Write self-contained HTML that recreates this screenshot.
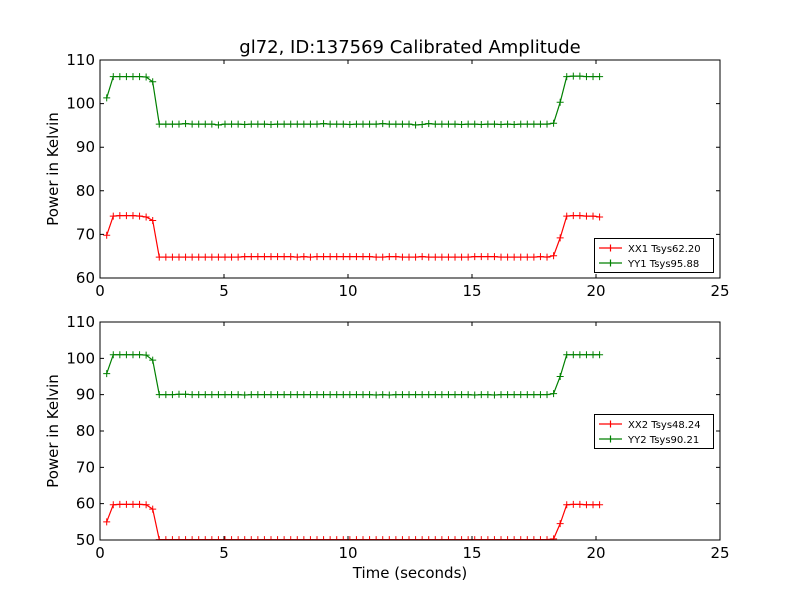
<!DOCTYPE html>
<html><head><meta charset="utf-8"><style>
body{margin:0;background:#fff;}
svg text{font-family:"DejaVu Sans","Liberation Sans",sans-serif;}
</style></head><body>
<svg id="chart" width="800" height="600" viewBox="0 0 800 600" xmlns="http://www.w3.org/2000/svg">
<rect width="800" height="600" fill="#fff"/>
<text x="410" y="53" font-size="18" text-anchor="middle">gl72, ID:137569 Calibrated Amplitude</text>
<text x="410" y="578" font-size="15" text-anchor="middle">Time (seconds)</text>
</svg>
<script>
const xTicks=[0,5,10,15,20,25];
const yTicksTop=[60,70,80,90,100,110];
const yTicksBot=[50,60,70,80,90,100,110];
const tStart=0.27, tStep=0.265;
const xx1=[69.8,74.2,74.3,74.3,74.3,74.2,74.0,73.2,
64.8,64.8,64.8,64.8,64.8,64.8,64.8,64.8,64.8,64.8,64.8,64.8,64.8,64.9,64.9,64.9,64.9,64.9,64.9,64.9,64.9,64.8,64.9,64.8,64.9,64.9,64.9,64.9,64.9,64.9,64.9,64.9,64.9,64.8,64.8,64.9,64.9,64.8,64.8,64.8,64.9,64.8,64.8,64.8,64.8,64.8,64.8,64.8,64.9,64.9,64.9,64.9,64.8,64.8,64.8,64.8,64.8,64.8,64.9,64.8,
65.1,69.2,74.2,74.3,74.3,74.2,74.2,74.0];
const yy1=[101.3,106.2,106.2,106.2,106.2,106.2,106.1,105.0,
95.3,95.3,95.3,95.3,95.4,95.3,95.3,95.3,95.3,95.1,95.3,95.3,95.3,95.2,95.3,95.3,95.3,95.2,95.3,95.3,95.3,95.3,95.3,95.3,95.3,95.4,95.3,95.3,95.3,95.2,95.3,95.3,95.3,95.3,95.4,95.3,95.3,95.3,95.3,95.1,95.2,95.4,95.3,95.3,95.3,95.3,95.2,95.3,95.3,95.2,95.3,95.3,95.2,95.3,95.2,95.3,95.3,95.3,95.3,95.3,
95.5,100.3,106.2,106.3,106.3,106.2,106.2,106.2];
const xx2=[55.0,59.7,59.8,59.8,59.8,59.8,59.7,58.5,
50.1,50.1,50.1,50.1,50.1,50.1,50.1,50.1,50.1,50.1,50.1,50.1,50.1,50.1,50.1,50.1,50.1,50.1,50.1,50.1,50.1,50.1,50.1,50.1,50.1,50.1,50.1,50.1,50.1,50.1,50.1,50.1,50.1,50.1,50.1,50.1,50.1,50.1,50.1,50.1,50.1,50.1,50.1,50.1,50.1,50.1,50.1,50.1,50.1,50.1,50.1,50.1,50.1,50.1,50.1,50.1,50.1,50.1,50.1,50.1,
50.3,54.5,59.7,59.8,59.8,59.7,59.7,59.7];
const yy2=[95.8,101.0,101.0,101.0,101.0,101.0,100.9,99.5,
90.0,90.0,90.0,90.1,90.1,90.0,90.0,90.0,90.0,90.0,90.0,90.0,90.0,89.9,90.0,90.0,90.0,90.0,90.0,90.0,90.0,90.0,90.0,90.0,90.0,90.0,90.0,90.0,90.0,90.0,90.0,90.0,90.0,89.9,90.0,89.9,90.0,90.0,90.0,90.0,90.0,90.0,90.0,90.0,90.0,90.0,90.0,90.0,89.9,90.0,90.0,89.9,90.0,90.0,90.0,90.0,90.0,90.0,90.0,90.0,
90.3,95.0,101.0,101.0,101.0,101.0,101.0,101.0];
const legendTop=["XX1 Tsys62.20","YY1 Tsys95.88"];
const legendBot=["XX2 Tsys48.24","YY2 Tsys90.21"];

const NS="http://www.w3.org/2000/svg";
const svg=document.getElementById('chart');
function mk(tag,attrs,parent){const e=document.createElementNS(NS,tag);for(const k in attrs)e.setAttribute(k,attrs[k]);(parent||svg).appendChild(e);return e;}
const X0=100,X1=720;
const xs=t=>X0+(t-0)/(25-0)*(X1-X0);

function panel(idx,top,bot,ymin,ymax,yTicks,series,labels,legY){
  const ys=v=>bot-(v-ymin)/(ymax-ymin)*(bot-top);
  const g=mk('g',{});
  
  
  const clipId='clip'+idx;
  const cp=mk('clipPath',{id:clipId},g);
  mk('rect',{x:X0,y:top,width:X1-X0,height:bot-top},cp);
  const colors=['#ff0000','#008000'];
  series.forEach((arr,si)=>{
    const sg=mk('g',{'clip-path':'url(#'+clipId+')'},g);
    
    
    const pts=arr.map((v,i)=>[xs(tStart+i*tStep),ys(v)]);
    const pl=mk('polyline',{points:pts.map(p=>p.join(',')).join(' '),fill:'none',stroke:colors[si],'stroke-width':1.2},sg);
    
    
    pts.forEach(p=>{
      const m=mk('path',{d:`M${p[0]-3.5},${p[1]}h7M${p[0]},${p[1]-3.5}v7`,stroke:colors[si],'stroke-width':1},sg);
      
      
    });
  });
  xTicks.forEach(t=>{
    const x=xs(t);
    mk('path',{d:`M${x},${bot}v-4M${x},${top}v4`,stroke:'#000','stroke-width':1},g);
    const tx=mk('text',{x:x,y:bot+18,'font-size':15,'text-anchor':'middle'},g);
    
    
    tx.textContent=t;
  });
  yTicks.forEach(v=>{
    const y=ys(v);
    mk('path',{d:`M${X0},${y}h4M${X1},${y}h-4`,stroke:'#000','stroke-width':1},g);
    const tx=mk('text',{x:X0-5,y:y+5,'font-size':15,'text-anchor':'end'},g);
    
    
    tx.textContent=v;
  });
  const fr=mk('rect',{x:X0,y:top,width:X1-X0,height:bot-top,fill:'none',stroke:'#000','stroke-width':1},g);
  
  
  const yl=mk('text',{x:58,y:(top+bot)/2,'font-size':15,'text-anchor':'middle',transform:`rotate(-90 58 ${(top+bot)/2})`},g);
  
  
  yl.textContent='Power in Kelvin';
  const lg=mk('g',{},g);
  
  
  mk('rect',{x:594.5,y:legY+0.5,width:119,height:34,fill:'#fff',stroke:'#000','stroke-width':1},lg);
  labels.forEach((l,i)=>{
    const yy=legY+10+i*15;
    const e=mk('g',{},lg);
    
    
    mk('path',{d:`M599,${yy}h23M610.5,${yy-3.5}v7`,stroke:colors[i],'stroke-width':1.2},e);
    const tx=mk('text',{x:628,y:yy+4,'font-size':10},e);
    tx.textContent=l;
  });
}
panel(1,60,278,60,110,yTicksTop,[xx1,yy1],legendTop,238);
panel(2,322,540,50,110,yTicksBot,[xx2,yy2],legendBot,414);
</script>
</body></html>
